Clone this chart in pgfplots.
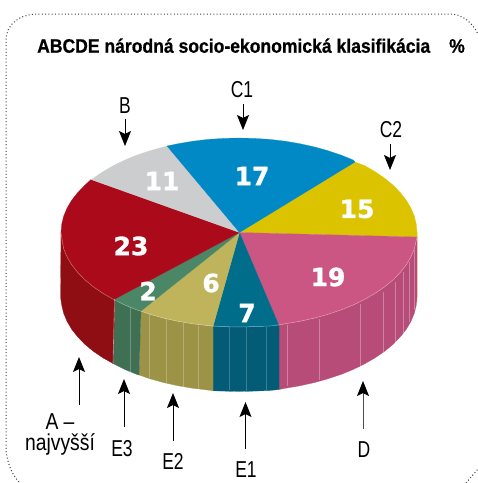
\documentclass[border=0pt]{standalone}
\usepackage{fontspec}
\setmainfont{Liberation Sans}
\usepackage{pgfplots}
\pgfplotsset{compat=1.18}
\usetikzlibrary{arrows.meta}
\newfontfamily\labfont[FakeStretch=0.76]{Liberation Sans}
\newfontfamily\lowfont[FakeStretch=0.84]{Liberation Sans}
\newfontfamily\titlefont[FakeStretch=0.9,FakeBold=0.6]{Liberation Sans Bold}
\newfontfamily\numfont[FakeStretch=1.0,FakeBold=1.2]{DejaVu Sans Bold}

\definecolor{cA}{HTML}{AB0A1A}
\definecolor{cB}{HTML}{CCCDCE}
\definecolor{cCa}{HTML}{0089C5}
\definecolor{cCb}{HTML}{DBC300}
\definecolor{cD}{HTML}{CC5683}
\definecolor{cEa}{HTML}{006E8A}
\definecolor{cEb}{HTML}{BFB45B}
\definecolor{cEc}{HTML}{4B8767}
\definecolor{sA}{HTML}{8E0E14}
\definecolor{sD}{HTML}{B64C77}
\definecolor{sEa}{HTML}{035B75}
\definecolor{sEb}{HTML}{9C9347}
\definecolor{sEc}{HTML}{3F7054}

\tikzset{
  slice/.style={fill=#1,draw=#1,line width=0.2pt},
  up/.style={-{Stealth[length=15pt,width=12pt,inset=3pt,color=black]},line width=1pt,black},
  lab/.style={font=\fontsize{23}{23}\selectfont\labfont,text=black,inner sep=0pt},
  num/.style={font=\fontsize{25}{25}\selectfont\numfont,text=white,inner sep=0pt},
}

\begin{document}
\begin{tikzpicture}
\begin{axis}[
  scale only axis, width=478pt, height=483pt,
  xmin=0, xmax=478, ymin=0, ymax=483, y dir=reverse,
  axis lines=none, no markers,
]
% side walls
\addplot[slice=cCb] coordinates {(417,232.5) (417,237) (417,301.5) (415,300)} --cycle;
\addplot[slice=sD] coordinates {(279,325.5) (285.1,323.8) (299.9,321.3) (314.3,318.1) (328,314.3) (341.2,309.9) (353.4,304.9) (364.8,299.3) (375.3,293.2) (384.8,286.7) (393.1,279.8) (400.3,272.4) (406.3,264.8) (410.9,257) (414.3,248.9) (416.3,240.7) (417,237)
  (417,297) (416.3,305.2) (414.3,313.4) (410.9,321.5) (406.3,329.3) (400.3,336.9) (393.1,344.3) (384.8,351.2) (375.3,357.7) (364.8,363.8) (353.4,369.4) (341.2,374.4) (328,378.8) (314.3,382.6) (299.9,385.8) (285.1,388.3) (279,389.5)} --cycle;
\addplot[slice=sEa] coordinates {(213,326.5) (223.5,326.6) (239,327) (254.5,326.6) (269.9,326) (279,325.5) (279,389.5) (269.9,390.5) (254.5,391.1) (239,391.5) (223.5,391.1) (213,390.8)} --cycle;
\addplot[slice=sEb] coordinates {(141,311) (150,314.3) (163.7,318.1) (178.1,321.3) (192.9,323.8) (208.1,325.6) (213,326.5) (213,390.8) (208.1,390.1) (192.9,388.3) (178.1,385.8) (163.7,382.6) (150,378.8) (139,375)} --cycle;
\addplot[slice=sEc] coordinates {(115,299) (124.6,304.9) (136.8,309.9) (141,311) (139,375) (136.8,374.4) (124.6,369.4) (113,363.5)} --cycle;
\addplot[slice=sA] coordinates {(115,299) (102.7,293.2) (93.2,286.7) (84.9,279.8) (77.7,272.4) (71.7,264.8) (67.1,257) (63.7,248.9) (61.7,240.7) (61,232.5)
  (60.5,297) (61.7,305.2) (63.7,313.4) (67.1,321.5) (71.7,329.3) (77.7,336.9) (84.9,344.3) (93.2,351.2) (102.7,357.7) (113,363.5)} --cycle;

% streaks on the walls
\foreach \xa/\ya/\yb in {287/325/386, 319/319/380, 360/304/367, 383/292/353, 395/282/343, 403/272/333, 409/262/322, 414/250/310}{
  \edef\tmp{\noexpand\draw[line width=0.5pt,white,opacity=0.3] (\xa,\ya) -- (\xa,\yb);}\tmp
}
\foreach \xa/\ya/\yb in {229/327/390, 246/327/391, 266/327/390}{
  \edef\tmp{\noexpand\draw[line width=0.5pt,white,opacity=0.22] (\xa,\ya) -- (\xa,\yb);}\tmp
}
\foreach \xa/\ya/\yb in {149.5/313/378, 166/319/383, 183/323/387, 198/326/389, 130/307/372}{
  \edef\tmp{\noexpand\draw[line width=0.5pt,white,opacity=0.25] (\xa,\ya) -- (\xa,\yb);}\tmp
}
\draw[line width=0.6pt,white,opacity=0.45] (114.5,299) -- (113,363);

% top faces
\addplot[slice=cCb] coordinates {(239.5,232.5) (355,162) (364.8,165.7) (375.3,171.8) (384.8,178.3) (393.1,185.2) (400.3,192.6) (406.3,200.2) (410.9,208) (414.3,216.1) (416.3,224.3) (417,232.5) (417,237)} --cycle;
\addplot[slice=cD] coordinates {(239.5,232.5) (417,237) (416.3,240.7) (414.3,248.9) (410.9,257) (406.3,264.8) (400.3,272.4) (393.1,279.8) (384.8,286.7) (375.3,293.2) (364.8,299.3) (353.4,304.9) (341.2,309.9) (328,314.3) (314.3,318.1) (299.9,321.3) (285.1,323.8) (279,325.5)} --cycle;
\addplot[slice=cEa] coordinates {(239.5,232.5) (279,325.5) (269.9,326) (254.5,326.6) (239,327) (223.5,326.6) (213,326.5)} --cycle;
\addplot[slice=cEb] coordinates {(239.5,232.5) (213,326.5) (208.1,325.6) (192.9,323.8) (178.1,321.3) (163.7,318.1) (150,314.3) (141,311)} --cycle;
\addplot[slice=cEc] coordinates {(239.5,232.5) (141,311) (136.8,309.9) (124.6,304.9) (115,299)} --cycle;
\addplot[slice=cA] coordinates {(239.5,232.5) (115,299) (102.7,293.2) (93.2,286.7) (84.9,279.8) (77.7,272.4) (71.7,264.8) (67.1,257) (63.7,248.9) (61.7,240.7) (61,232.5) (61.7,224.3) (63.7,216.1) (67.1,208) (71.7,200.2) (77.7,192.6) (84.9,185.2) (91,179.5)} --cycle;
\addplot[slice=cB] coordinates {(239.5,232.5) (91,179.5) (93.2,178.3) (102.7,171.8) (113.2,165.7) (124.6,160.1) (136.8,155.1) (150,150.7) (163.7,146.9) (167,146)} --cycle;
\addplot[slice=cCa] coordinates {(239.5,232.5) (167,146) (178.1,143.7) (192.9,141.2) (208.1,139.4) (223.5,138.4) (239,138) (254.5,138.4) (269.9,139.4) (285.1,141.2) (299.9,143.7) (314.3,146.9) (328,150.7) (341.2,155.1) (353.4,160.1) (355,162)} --cycle;
% light rim along the front edge
\addplot[line width=0.5pt,white,opacity=0.4] coordinates {(61,232.5) (63.7,248.9) (67.1,257) (71.7,264.8) (77.7,272.4) (84.9,279.8) (93.2,286.7) (102.7,293.2) (113.2,299.3) (124.6,304.9) (136.8,309.9) (150,314.3) (163.7,318.1) (178.1,321.3) (192.9,323.8) (208.1,325.6) (223.5,326.6) (239,327) (254.5,326.6) (269.9,326) (285.1,323.8) (299.9,321.3) (314.3,318.1) (328,314.3) (341.2,309.9) (353.4,304.9) (364.8,299.3) (375.3,293.2) (384.8,286.7) (393.1,279.8) (400.3,272.4) (406.3,264.8) (410.9,257) (414.3,248.9) (417,237)};

% frame
\draw[line width=1pt,black!75,dash pattern=on 1pt off 2.3pt] (19,482) .. controls (12,474) and (8,466) .. (6,450) -- (6,40) .. controls (6,24) and (20,14) .. (38,14) -- (450,14) .. controls (462,14) and (472,22) .. (478,34);
\draw[line width=1pt,black!75,dash pattern=on 1pt off 2.3pt] (466,483) -- (478,469);

% arrows
\draw[up] (125,119) -- (125,146);
\draw[up] (243,104) -- (243,130);
\draw[up] (390,144) -- (390,170);
\draw[up] (79,405) -- (79,357);
\draw[up] (124,427) -- (124,379);
\draw[up] (173,441) -- (173,393);
\draw[up] (245.5,449) -- (245.5,402);
\draw[up,draw=black!70] (363,429) -- (363,381);

% title
\node[anchor=base west,inner sep=0pt,font=\fontsize{19.5}{19.5}\selectfont\titlefont] at (37,52.7) {ABCDE národná socio-ekonomická klasifikácia};
\node[anchor=base west,inner sep=0pt,font=\fontsize{19.5}{19.5}\selectfont\titlefont] at (449,52.7) {\%};

% labels
\node[lab] at (125,106) {B};
\node[lab] at (242,90) {C1};
\node[lab] at (391,130) {C2};
\node[lab,align=center,font=\fontsize{23}{21}\selectfont\lowfont] at (60,434) {A –\\najvyšší};
\node[lab] at (122,449) {E3};
\node[lab] at (173,461) {E2};
\node[lab] at (246,470) {E1};
\node[lab] at (364,450) {D};

% values
\node[num] at (252,176) {17};
\node[num] at (162,181) {11};
\node[num] at (357,209) {15};
\node[num] at (131,246) {23};
\node[num] at (328,277) {19};
\node[num] at (148,291) {2};
\node[num] at (211,283) {6};
\node[num] at (247,313) {7};
\end{axis}
\pgfresetboundingbox
\path[use as bounding box] (current axis.south west) rectangle (current axis.north east);
\end{tikzpicture}
\end{document}
